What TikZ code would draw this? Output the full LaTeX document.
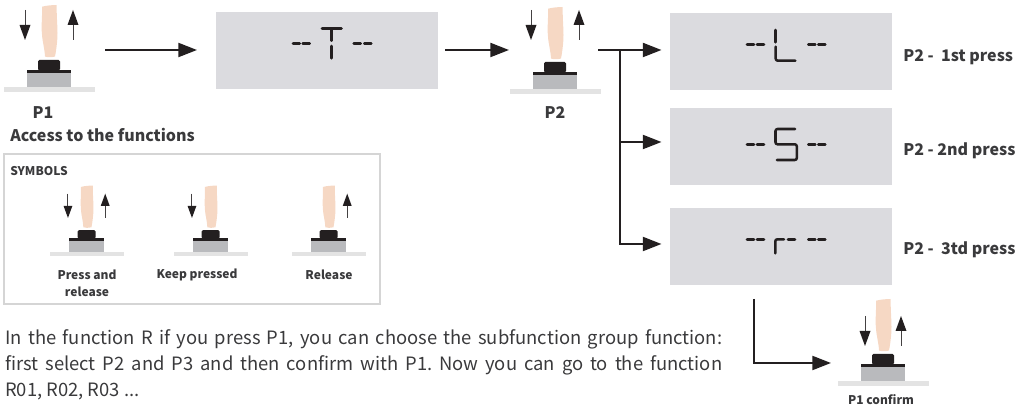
\documentclass[tikz,border=0pt]{standalone}
\usepackage{fontspec}
\setmainfont{Noto Sans CJK SC}
\usetikzlibrary{arrows.meta}
\definecolor{ink}{HTML}{231F20}
\definecolor{txt}{HTML}{3A3A3C}
\definecolor{disp}{HTML}{DBDBDF}
\definecolor{fing}{HTML}{F6D8C4}
\definecolor{plate}{HTML}{E3E3E3}
\definecolor{blockg}{HTML}{B9BABD}
\definecolor{frameg}{HTML}{D5D5D5}
\tikzset{
  x=.75pt,y=-.75pt,
  dispbox/.style={fill=disp,draw=none,minimum width=166.5pt,minimum height=57.75pt,inner sep=0pt},
  flow/.style={draw=ink,line width=1.6pt,-{Triangle[length=14pt,width=10.5pt]}},
  seg/.style={draw=ink,line width=1.9pt,line cap=round,line join=round},
  lab/.style={font=\bfseries\fontsize{12}{14}\selectfont,text=txt,inner sep=0pt},
  smlab/.style={font=\bfseries\fontsize{9}{12.5}\selectfont,text=txt,inner sep=0pt,align=center},
}
% name, cx, cy, scale, down(0/1), up(0/1), arrow inward shift, arrow vertical shift
\newcommand\pressicon[8]{%
 \begin{scope}[shift={(#2,#3)},scale=#4]
  \coordinate (#1) at (0,0);
  \fill[plate] (-45.5,-2.5) rectangle (45.5,2.5);
  \fill[blockg] (-22.5,-16.5) rectangle (21.5,-2.5);
  \fill[ink] (-22.5,-19.5) rectangle (21.5,-16.5);
  \fill[ink,rounded corners=1pt] (-11.5,-19) rectangle (10.5,-29.5);
  \fill[fing] (-7.5,-82.8) .. controls (-3,-84) and (3,-84.5) .. (7.2,-84.5)
     .. controls (7,-74) and (8,-64) .. (8,-56.5)
     .. controls (8,-48) and (6.5,-38) .. (5.5,-33)
     .. controls (2,-32) and (-2,-32) .. (-4.5,-33)
     .. controls (-5,-42) and (-7,-47) .. (-7.5,-55)
     .. controls (-8.5,-64) and (-7,-74) .. (-7.5,-82.8) -- cycle;
  \ifnum#5=1
   \begin{scope}[shift={(#7,#8)}]
   \draw[ink!85,line width=.75pt] (-24.5,-79.5) -- (-24.5,-62);
   \fill[ink] (-30,-64.5) -- (-19,-64.5) -- (-24.5,-49.5) -- cycle;
   \end{scope}
  \fi
  \ifnum#6=1
   \begin{scope}[shift={(-#7,#8)}]
   \draw[ink!85,line width=.75pt] (23.5,-49.5) -- (23.5,-67);
   \fill[ink] (18,-64.5) -- (29,-64.5) -- (23.5,-79.5) -- cycle;
   \end{scope}
  \fi
 \end{scope}}
\begin{document}
\frenchspacing
\begin{tikzpicture}
\useasboundingbox (0,0) rectangle (1025,409);
% icons
\pressicon{iconA}{49.5}{89.5}{1}{1}{1}{0}{0}
\pressicon{iconB}{555.5}{91.5}{1}{1}{1}{0}{-2}
\pressicon{iconC}{883.5}{383.5}{1}{1}{1}{6}{12}
% displays
\node[dispbox] (tbox) at (327,50.5) {};
\node[dispbox] (lbox) at (781,51.5) {};
\node[dispbox] (sbox) at (781,146.5) {};
\node[dispbox] (rbox) at (781,246.5) {};
% connectors
\coordinate (a1s) at (105,50);
\coordinate (a1e) at (197,50);
\coordinate (a2s) at (445,50);
\coordinate (a2e) at (509,50);
\coordinate (a3s) at (598,50);
\coordinate (a3e) at (661.5,50);
\coordinate (branch) at (620,50);
\coordinate (a4e) at (661.5,142);
\coordinate (a5e) at (661.5,244);
\coordinate (a6s) at (754,299);
\coordinate (a6e) at (831,363);
\draw[flow] (a1s) -- (a1e);
\draw[flow] (a2s) -- (a2e);
\draw[flow] (a3s) -- (a3e);
\draw[flow] (branch) |- (a4e);
\draw[flow] (branch) |- (a5e);
\draw[flow] (a6s) |- (a6e);
% display glyphs: T
\foreach \a/\b in {293/299.7,302.7/309.7,353.7/360.7,364.3/371.3}{\draw[seg] (\a,43.7) -- (\b,43.7);}
\draw[seg] (322,28.3) -- (341.5,28.3);
\draw[seg] (331.7,30) -- (331.7,40.7);
\draw[seg] (331.7,46) -- (331.7,58.3);
% L
\foreach \a/\b in {747/754,757/764,808.3/815.3,818.3/825.3}{\draw[seg] (\a,44.3) -- (\b,44.3);}
\draw[seg] (775.7,30) -- (775.7,42.3);
\draw[seg,rounded corners=1.5pt] (775.7,46.7) -- (775.7,60.7) -- (795.3,60.7);
% S
\foreach \a/\b in {747/754,757/764,808.3/815.3,818.3/825.3}{\draw[seg] (\a,144.3) -- (\b,144.3);}
\draw[seg,rounded corners=1.5pt] (795,129) -- (775.5,129) -- (775.5,144.3) -- (796.8,144.3) -- (796.8,160) -- (777,160);
% r
\foreach \a/\b in {747/754,757/764,808.3/815.3,818.3/825.3}{\draw[seg] (\a,239.3) -- (\b,239.3);}
\draw[seg,rounded corners=1.5pt] (775.3,253.3) -- (775.3,239.3) -- (784,239.3);
\draw[seg] (788,239.3) -- (795,239.3);
% labels
\node[lab] (lp1) at (43,113) {P1};
\node[lab,anchor=west] (lacc) at (10,135) {Access to the functions};
\node[lab] (lp2) at (555,113) {P2};
\node[lab,anchor=west] (l1st) at (903,57) {P2 -\ \ 1st press};
\node[lab,anchor=west] (l2nd) at (903,151) {P2 - 2nd press};
\node[lab,anchor=west] (l3td) at (903,250) {P2 -\ \ 3td press};
% symbols frame
\draw[frameg,line width=1.5pt] (4,154) rectangle (380,304);
\node[smlab,anchor=west] (lsym) at (10,171) {SYMBOLS};
\pressicon{iconD}{87}{254}{.81}{1}{1}{1}{5}
\pressicon{iconE}{211}{254}{.81}{1}{0}{1}{5}
\pressicon{iconF}{329}{254}{.81}{0}{1}{1}{5}
\node[smlab] (lpr) at (87,283.5) {Press and\\release};
\node[smlab] (lkp) at (197,275) {Keep pressed};
\node[smlab] (lrl) at (329,275) {Release};
\node[smlab] (lconf) at (881,400) {P1 confirm};
% body
\node[anchor=north west,inner sep=0pt,text width=537.75pt,text=txt,align=justify,
  font=\fontsize{13.8}{19.5}\selectfont] (body) at (5,329.6)
 {In the function R if you press P1, you can choose the subfunction group function:\linebreak
  first select P2 and P3 and then confirm with P1. Now you can go to the function\linebreak
  R01, R02, R03 ...};
\end{tikzpicture}
\end{document}
